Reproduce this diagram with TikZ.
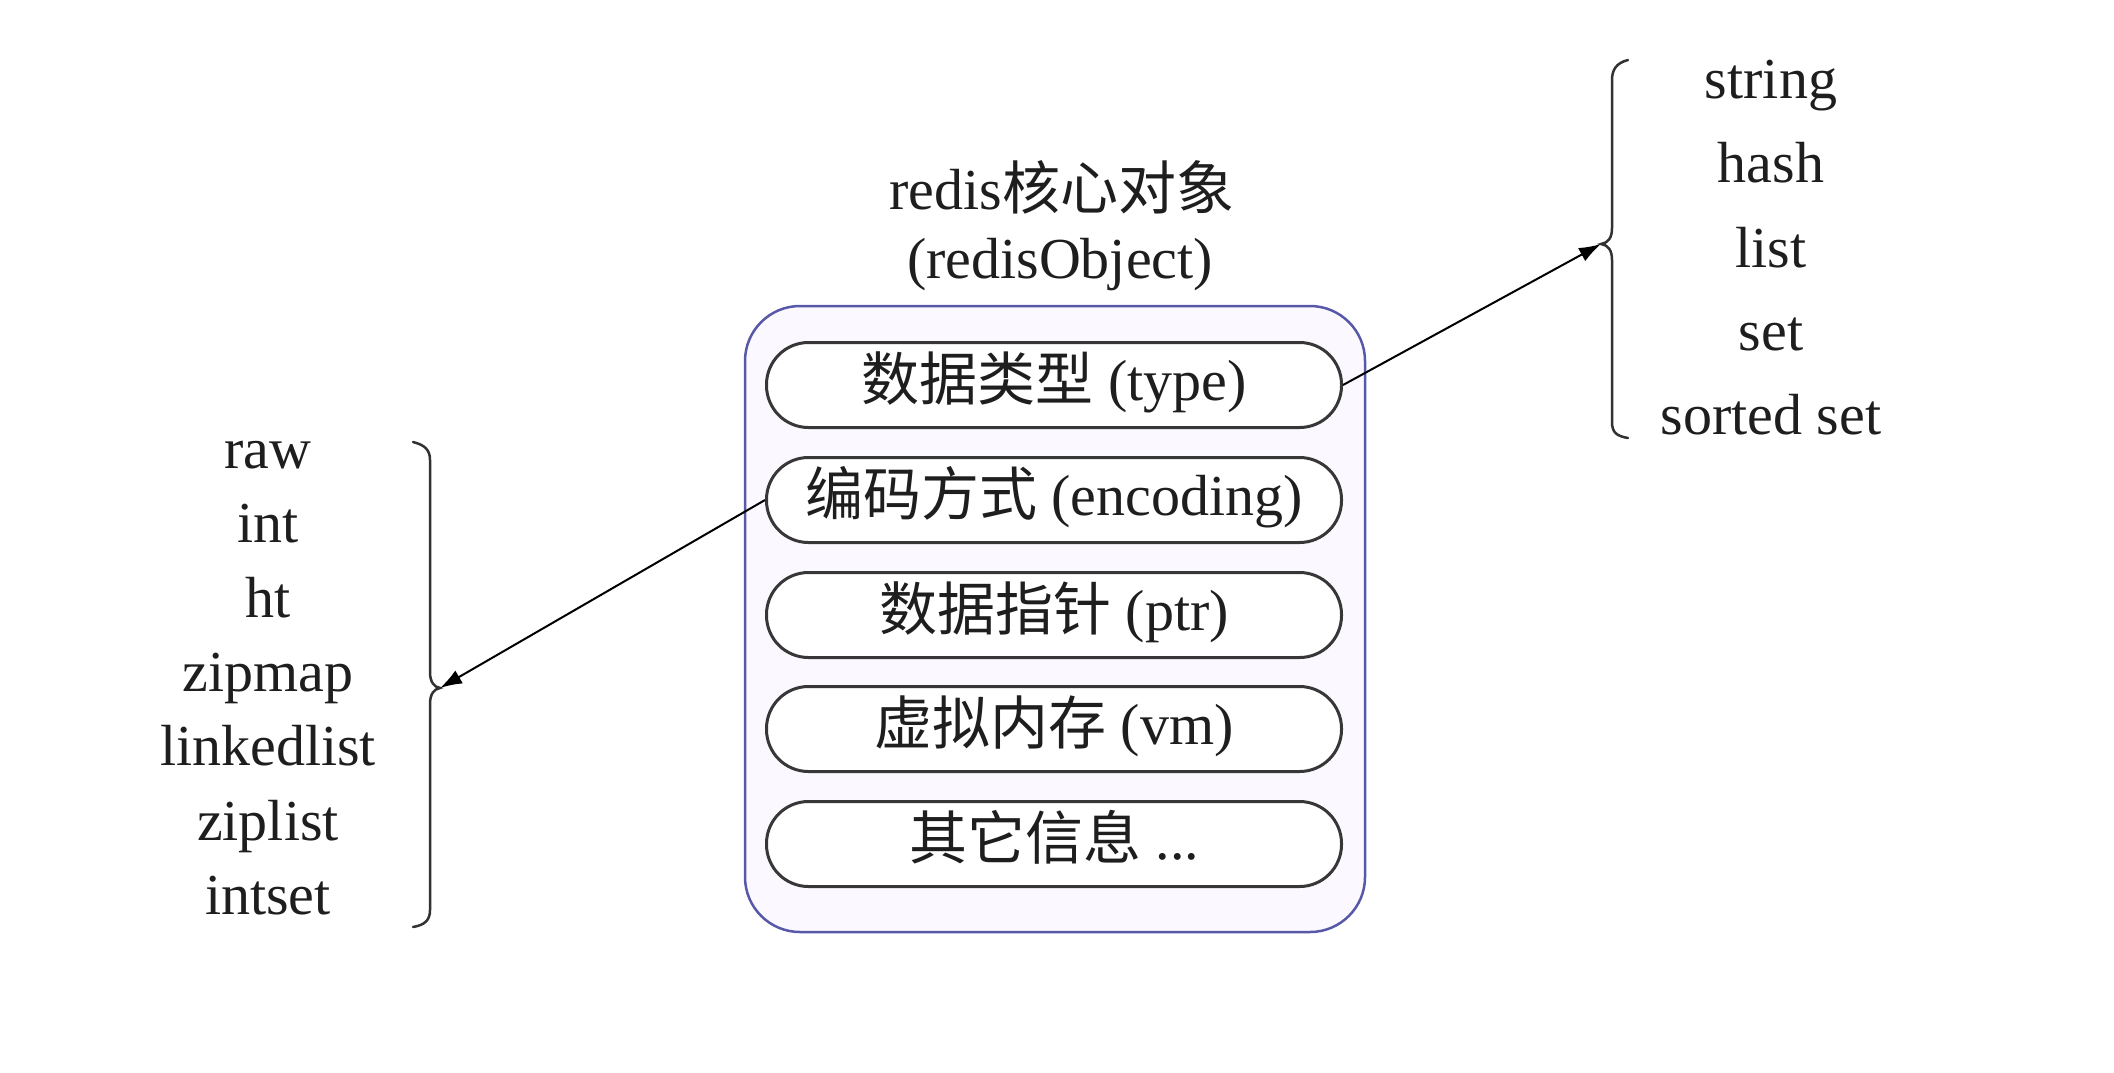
\documentclass[tikz,border=0pt]{standalone}
\usepackage{fontspec}
\setmainfont{Liberation Serif}
\newfontfamily\cjk{Noto Sans CJK SC}
\usetikzlibrary{arrows.meta}
\definecolor{boxblue}{RGB}{88,88,168}
\definecolor{boxfill}{RGB}{251,249,255}
\definecolor{pillgray}{RGB}{55,55,55}
\definecolor{bracegray}{RGB}{50,50,50}
\definecolor{textgray}{RGB}{30,30,30}
\begin{document}
\begin{tikzpicture}[x=1pt,y=-1pt,
  every node/.style={font=\fontsize{58}{70}\selectfont, inner sep=0pt, text=textgray},
  outerbox/.style={draw=boxblue, line width=2.5pt, fill=boxfill, rounded corners=55pt, minimum width=620pt, minimum height=626pt},
  pill/.style={draw=pillgray, line width=3pt, fill=white, rounded corners=42pt, minimum width=575pt, minimum height=85pt, text height=42pt, text depth=12pt},
  lbl/.style={anchor=base},
  bracepath/.style={draw=bracegray, line width=2.5pt, line cap=round},
  arr/.style={draw=black, line width=2pt, -{Latex[length=22pt,width=15pt]}}
]
\useasboundingbox (0,0) rectangle (2114,1072);
\fill[white] (0,0) rectangle (2114,1072);

% title
\node[lbl] (title1) at (1062,209) {redis{\cjk 核心对象}};
\node[lbl] (title2) at (1060,278) {(redisObject)};

% outer box
\node[outerbox] (obj) at (1055,619) {};

% fields
\node[pill] (type) at (1054,385) {{\cjk 数据类型} (type)};
\node[pill] (enc)  at (1054,500) {{\cjk 编码方式} (encoding)};
\node[pill] (ptr)  at (1054,615) {{\cjk 数据指针} (ptr)};
\node[pill] (vm)   at (1054,729) {{\cjk 虚拟内存} (vm)};
\node[pill] (other) at (1054,844) {{\cjk 其它信息} ...};

% right list
\node[lbl] (t1) at (1771,98)  {string};
\node[lbl] (t2) at (1771,182) {hash};
\node[lbl] (t3) at (1771,267) {list};
\node[lbl] (t4) at (1771,350) {set};
\node[lbl] (t5) at (1771,434) {sorted set};

% left list
\node[lbl] (e1) at (268,468) {raw};
\node[lbl] (e2) at (268,542) {int};
\node[lbl] (e3) at (268,617) {ht};
\node[lbl] (e4) at (268,691) {zipmap};
\node[lbl] (e5) at (268,765) {linkedlist};
\node[lbl] (e6) at (268,840) {ziplist};
\node[lbl] (e7) at (268,914) {intset};

% right brace
\coordinate (rtip) at (1601,244);
\path[bracepath] (1628,60) .. controls (1616,63) and (1612,70) .. (1612,80)
  -- (1612,228) .. controls (1612,238) and (1608,243) .. (rtip)
  .. controls (1608,245) and (1612,250) .. (1612,260)
  -- (1612,422) .. controls (1612,432) and (1616,436) .. (1628,438);

% left brace
\coordinate (ltip) at (440,688);
\path[bracepath] (413,442) .. controls (425,445) and (430,450) .. (430,460)
  -- (430,672) .. controls (430,682) and (434,687) .. (ltip)
  .. controls (434,689) and (430,694) .. (430,704)
  -- (430,910) .. controls (430,920) and (425,925) .. (413,927);

% connectors
\draw[arr] (type.east) -- (rtip);
\draw[arr] (enc.west) -- (ltip);
\end{tikzpicture}
\end{document}
